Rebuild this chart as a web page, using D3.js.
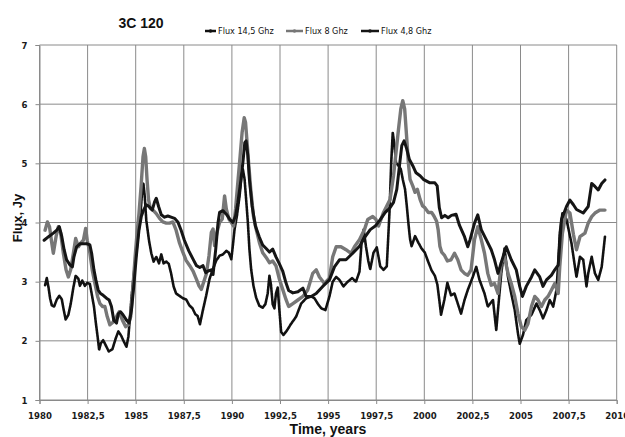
<!DOCTYPE html>
<html>
<head>
<meta charset="utf-8">
<script src="https://cdn.jsdelivr.net/npm/d3@7"></script>
<style>
  html, body { margin: 0; padding: 0; background: #fff; }
  svg { display: block; }
  .tick text { font-family: 'Liberation Sans Narrow', 'DejaVu Sans Condensed', 'Liberation Sans', sans-serif; }
</style>
</head>
<body>
<svg id="chart" width="625" height="437"></svg>
<script>
// ---------------- DATA ----------------
const chartTitle = "3C 120";
const xTicks = [1980, 1982.5, 1985, 1987.5, 1990, 1992.5, 1995, 1997.5, 2000, 2002.5, 2005, 2007.5, 2010];
const yTicks = [1, 2, 3, 4, 5, 6, 7];
const seriesNames = ["Flux 14,5 Ghz", "Flux 8 Ghz", "Flux 4,8 Ghz"];

// [year, flux Jy]
const flux145 = [
[1980.29,2.94],[1980.38,3.06],[1980.47,2.90],[1980.55,2.72],[1980.64,2.60],[1980.76,2.58],[1980.90,2.70],[1981.03,2.76],
[1981.16,2.70],[1981.26,2.52],[1981.36,2.36],[1981.50,2.44],[1981.62,2.62],[1981.76,2.90],[1981.88,3.10],[1982.02,3.05],
[1982.10,2.93],[1982.22,3.02],[1982.36,2.93],[1982.48,2.98],[1982.62,2.96],[1982.71,2.80],[1982.83,2.58],[1982.93,2.30],
[1983.02,2.07],[1983.10,1.85],[1983.19,1.96],[1983.31,2.01],[1983.45,1.92],[1983.60,1.82],[1983.79,1.86],[1983.97,2.05],
[1984.10,2.16],[1984.24,2.09],[1984.38,1.99],[1984.52,1.90],[1984.62,2.07],[1984.69,2.35],[1984.78,2.73],[1984.90,3.12],
[1985.00,3.40],[1985.12,3.76],[1985.24,4.10],[1985.34,4.55],[1985.40,4.66],[1985.47,4.44],[1985.55,4.04],[1985.69,3.70],
[1985.81,3.48],[1985.93,3.34],[1986.07,3.42],[1986.21,3.31],[1986.33,3.46],[1986.45,3.31],[1986.59,3.34],[1986.72,3.30],
[1986.84,3.14],[1986.97,2.92],[1987.10,2.80],[1987.28,2.76],[1987.45,2.72],[1987.62,2.70],[1987.79,2.60],[1987.95,2.55],
[1988.10,2.45],[1988.22,2.42],[1988.34,2.28],[1988.48,2.50],[1988.66,2.76],[1988.84,3.05],[1989.02,3.22],[1989.19,3.36],
[1989.36,3.44],[1989.53,3.46],[1989.71,3.52],[1989.84,3.49],[1989.97,3.38],[1990.05,3.61],[1990.14,3.89],[1990.26,4.11],
[1990.40,4.45],[1990.50,4.79],[1990.57,4.90],[1990.66,4.73],[1990.74,4.39],[1990.83,4.00],[1990.91,3.55],[1991.00,3.21],
[1991.12,2.93],[1991.26,2.73],[1991.43,2.59],[1991.60,2.56],[1991.74,2.62],[1991.86,2.80],[1991.95,3.10],[1992.03,2.95],
[1992.12,2.62],[1992.21,2.55],[1992.29,2.80],[1992.38,2.90],[1992.46,2.55],[1992.56,2.15],[1992.68,2.10],[1992.85,2.17],
[1993.08,2.29],[1993.34,2.41],[1993.60,2.63],[1993.86,2.72],[1994.12,2.75],[1994.29,2.72],[1994.46,2.63],[1994.64,2.55],
[1994.86,2.52],[1995.07,2.75],[1995.24,3.00],[1995.42,3.08],[1995.59,3.03],[1995.80,2.92],[1996.02,3.00],[1996.25,3.06],
[1996.45,3.00],[1996.63,3.17],[1996.75,3.71],[1996.85,3.88],[1996.97,3.59],[1997.09,3.35],[1997.19,3.21],[1997.36,3.49],
[1997.53,3.58],[1997.71,3.26],[1997.88,3.20],[1998.05,3.26],[1998.19,4.17],[1998.28,5.01],[1998.36,5.52],[1998.45,5.30],
[1998.53,5.01],[1998.66,4.96],[1998.78,4.90],[1998.88,4.73],[1999.00,4.56],[1999.09,4.28],[1999.17,4.00],[1999.26,3.72],
[1999.34,3.60],[1999.52,3.77],[1999.69,3.66],[1999.86,3.56],[2000.03,3.49],[2000.21,3.33],[2000.38,3.19],[2000.55,3.10],
[2000.68,2.95],[2000.78,2.69],[2000.87,2.44],[2001.04,2.69],[2001.20,2.98],[2001.39,2.77],[2001.57,2.80],[2001.74,2.63],
[2001.91,2.46],[2002.09,2.69],[2002.26,2.86],[2002.52,3.08],[2002.70,3.25],[2002.87,3.03],[2003.13,2.80],[2003.30,2.58],
[2003.57,2.69],[2003.74,2.18],[2003.83,2.52],[2004.00,3.14],[2004.17,3.56],[2004.35,3.08],[2004.52,2.80],[2004.70,2.52],
[2004.87,2.12],[2004.96,1.95],[2005.13,2.10],[2005.30,2.35],[2005.57,2.44],[2005.83,2.63],[2006.00,2.52],[2006.17,2.38],
[2006.35,2.52],[2006.52,2.69],[2006.70,2.58],[2006.87,2.86],[2006.96,3.31],[2007.04,3.82],[2007.18,4.16],[2007.39,4.05],
[2007.65,3.65],[2007.83,3.25],[2007.91,3.08],[2008.09,3.42],[2008.26,3.37],[2008.43,2.92],[2008.52,3.14],[2008.70,3.42],
[2008.87,3.14],[2009.04,3.03],[2009.22,3.25],[2009.39,3.76]
];

const flux8 = [
[1980.29,3.87],[1980.41,4.01],[1980.52,3.93],[1980.64,3.65],[1980.72,3.48],[1980.86,3.76],[1980.98,3.93],[1981.10,3.82],
[1981.24,3.48],[1981.38,3.20],[1981.50,3.08],[1981.62,3.20],[1981.76,3.48],[1981.88,3.73],[1982.02,3.59],[1982.14,3.65],
[1982.28,3.70],[1982.40,3.90],[1982.48,3.70],[1982.62,3.48],[1982.74,3.20],[1982.88,2.97],[1983.02,2.75],[1983.14,2.63],
[1983.28,2.58],[1983.40,2.58],[1983.52,2.41],[1983.66,2.27],[1983.83,2.32],[1984.00,2.41],[1984.14,2.49],[1984.31,2.35],
[1984.48,2.24],[1984.62,2.27],[1984.74,2.41],[1984.86,2.92],[1984.97,3.42],[1985.07,3.82],[1985.17,4.15],[1985.28,4.61],
[1985.38,5.11],[1985.45,5.25],[1985.52,5.11],[1985.59,4.72],[1985.67,4.38],[1985.76,4.24],[1985.90,4.21],[1986.07,4.15],
[1986.24,4.07],[1986.41,4.01],[1986.59,3.99],[1986.76,3.99],[1986.93,4.01],[1987.10,3.87],[1987.28,3.65],[1987.45,3.50],
[1987.62,3.36],[1987.81,3.27],[1987.98,3.18],[1988.16,3.04],[1988.29,2.93],[1988.41,2.87],[1988.53,2.99],[1988.67,3.13],
[1988.81,3.44],[1988.93,3.83],[1989.02,3.89],[1989.10,3.61],[1989.22,3.83],[1989.36,4.00],[1989.50,4.06],[1989.62,4.45],
[1989.71,4.23],[1989.84,4.06],[1989.97,4.00],[1990.09,3.94],[1990.19,4.23],[1990.31,4.68],[1990.43,5.13],[1990.53,5.52],
[1990.64,5.77],[1990.71,5.69],[1990.79,5.35],[1990.88,4.96],[1990.98,4.56],[1991.12,4.11],[1991.26,3.89],[1991.43,3.66],
[1991.60,3.49],[1991.78,3.41],[1991.95,3.32],[1992.12,3.35],[1992.29,3.27],[1992.47,3.04],[1992.64,2.87],[1992.81,2.70],
[1992.95,2.58],[1993.17,2.63],[1993.43,2.69],[1993.69,2.75],[1993.94,2.86],[1994.20,3.14],[1994.38,3.20],[1994.55,3.08],
[1994.81,2.97],[1995.07,3.06],[1995.24,3.42],[1995.42,3.59],[1995.67,3.59],[1995.93,3.54],[1996.19,3.48],[1996.37,3.59],
[1996.63,3.71],[1996.89,3.88],[1997.06,4.05],[1997.32,4.10],[1997.49,4.05],[1997.62,3.94],[1997.88,4.17],[1998.05,4.28],
[1998.22,4.39],[1998.40,4.79],[1998.53,5.18],[1998.66,5.58],[1998.78,5.92],[1998.88,6.06],[1998.98,5.92],[1999.09,5.41],
[1999.17,5.01],[1999.26,4.73],[1999.40,4.62],[1999.52,4.51],[1999.64,4.56],[1999.78,4.39],[1999.91,4.28],[2000.03,4.25],
[2000.21,4.17],[2000.38,4.17],[2000.50,4.11],[2000.64,4.02],[2000.72,3.88],[2000.81,3.60],[2000.90,3.50],[2001.04,3.45],
[2001.20,3.35],[2001.39,3.37],[2001.57,3.48],[2001.74,3.37],[2001.91,3.20],[2002.09,3.14],[2002.26,3.11],[2002.43,3.20],
[2002.61,3.71],[2002.78,3.93],[2002.96,3.71],[2003.13,3.48],[2003.30,3.14],[2003.48,2.94],[2003.65,2.97],[2003.83,2.80],
[2004.00,3.31],[2004.17,3.42],[2004.35,3.14],[2004.52,2.97],[2004.70,2.75],[2004.87,2.46],[2005.04,2.24],[2005.22,2.18],
[2005.39,2.29],[2005.57,2.58],[2005.74,2.75],[2005.91,2.69],[2006.09,2.58],[2006.26,2.69],[2006.43,2.75],[2006.61,2.86],
[2006.78,2.97],[2006.96,2.80],[2007.04,3.25],[2007.18,3.82],[2007.39,4.21],[2007.57,4.16],[2007.75,3.80],[2007.91,3.54],
[2008.09,3.76],[2008.35,3.82],[2008.52,3.99],[2008.70,4.10],[2008.87,4.16],[2009.13,4.21],[2009.39,4.21]
];

const flux48 = [
[1980.24,3.70],[1980.47,3.76],[1980.72,3.82],[1980.90,3.87],[1981.03,3.93],[1981.16,3.76],[1981.28,3.54],[1981.41,3.37],
[1981.59,3.28],[1981.71,3.25],[1981.79,3.42],[1981.93,3.59],[1982.10,3.64],[1982.28,3.64],[1982.48,3.64],[1982.62,3.62],
[1982.71,3.48],[1982.83,3.20],[1982.93,3.03],[1983.05,2.86],[1983.17,2.80],[1983.31,2.77],[1983.48,2.72],[1983.62,2.69],
[1983.74,2.58],[1983.86,2.35],[1984.00,2.30],[1984.10,2.46],[1984.21,2.49],[1984.34,2.44],[1984.52,2.35],[1984.66,2.30],
[1984.78,2.52],[1984.90,2.92],[1985.03,3.42],[1985.17,3.87],[1985.29,4.10],[1985.41,4.21],[1985.55,4.30],[1985.69,4.27],
[1985.86,4.21],[1985.98,4.35],[1986.07,4.41],[1986.19,4.27],[1986.33,4.13],[1986.50,4.09],[1986.67,4.11],[1986.84,4.09],
[1987.02,4.07],[1987.19,4.01],[1987.36,3.87],[1987.53,3.70],[1987.76,3.52],[1987.98,3.38],[1988.16,3.27],[1988.33,3.24],
[1988.50,3.27],[1988.64,3.15],[1988.76,3.18],[1988.93,3.20],[1989.02,3.12],[1989.16,3.55],[1989.28,4.00],[1989.36,4.17],
[1989.53,4.20],[1989.71,4.14],[1989.88,4.06],[1990.05,4.00],[1990.19,4.11],[1990.31,4.34],[1990.43,4.62],[1990.57,5.01],
[1990.67,5.35],[1990.74,5.38],[1990.83,5.13],[1990.91,4.73],[1991.05,4.28],[1991.22,3.94],[1991.43,3.75],[1991.60,3.62],
[1991.78,3.56],[1991.95,3.50],[1992.12,3.55],[1992.29,3.42],[1992.47,3.30],[1992.64,3.18],[1992.81,2.98],[1992.95,2.85],
[1993.17,2.81],[1993.43,2.83],[1993.69,2.89],[1993.86,2.75],[1994.12,2.75],[1994.38,2.80],[1994.72,2.92],[1995.07,3.03],
[1995.33,3.25],[1995.59,3.37],[1995.93,3.37],[1996.28,3.48],[1996.63,3.60],[1996.93,3.76],[1997.19,3.88],[1997.45,3.94],
[1997.71,4.05],[1997.97,4.17],[1998.22,4.25],[1998.40,4.34],[1998.57,4.56],[1998.71,4.96],[1998.83,5.30],[1998.95,5.38],
[1999.09,5.24],[1999.22,5.07],[1999.40,4.96],[1999.57,4.84],[1999.78,4.79],[1999.95,4.73],[2000.12,4.70],[2000.29,4.67],
[2000.55,4.67],[2000.67,4.62],[2000.78,4.25],[2000.90,4.08],[2001.07,4.12],[2001.24,4.08],[2001.41,4.12],[2001.65,4.14],
[2001.83,3.95],[2002.09,3.76],[2002.26,3.59],[2002.38,3.71],[2002.61,3.99],[2002.78,4.13],[2002.96,3.88],[2003.22,3.71],
[2003.48,3.54],[2003.65,3.37],[2003.83,3.14],[2004.09,3.42],[2004.26,3.59],[2004.52,3.37],[2004.78,3.20],[2004.96,2.92],
[2005.10,2.75],[2005.30,2.92],[2005.57,3.08],[2005.74,3.20],[2006.00,3.08],[2006.17,2.92],[2006.35,3.03],[2006.61,3.11],
[2006.78,3.20],[2006.96,3.28],[2007.13,4.05],[2007.39,4.27],[2007.57,4.38],[2007.75,4.30],[2007.91,4.22],[2008.26,4.16],
[2008.52,4.27],[2008.70,4.66],[2008.87,4.61],[2009.04,4.55],[2009.22,4.66],[2009.39,4.72]
];

// ---------------- CHART ----------------
const svg = d3.select("#chart");
const x = d3.scaleLinear().domain([1980, 2010]).range([39.5, 616.7]);
const y = d3.scaleLinear().domain([1, 7]).range([400, 45]);
const fmt = v => String(v).replace(".", ",");
const tickFont = "'Liberation Sans Narrow', 'DejaVu Sans Condensed', 'Liberation Sans', sans-serif";

// grid
const grid = svg.append("g");
grid.selectAll("line.v").data(xTicks).join("line")
  .attr("x1", d => x(d)).attr("x2", d => x(d))
  .attr("y1", y(7)).attr("y2", y(1))
  .attr("stroke", "#8a8a8a").attr("stroke-width", 1);
grid.selectAll("line.h").data(yTicks).join("line")
  .attr("x1", x(1980)).attr("x2", x(2010))
  .attr("y1", d => y(d)).attr("y2", d => y(d))
  .attr("stroke", "#8a8a8a").attr("stroke-width", 1);

// axes
const xAxis = svg.append("g").attr("transform", `translate(0,${y(1)})`)
  .call(d3.axisBottom(x).tickValues(xTicks).tickFormat(fmt).tickSize(4).tickPadding(8));
const yAxis = svg.append("g").attr("transform", `translate(${x(1980)},0)`)
  .call(d3.axisLeft(y).tickValues(yTicks).tickFormat(d3.format("d")).tickSize(4).tickPadding(8));
[xAxis, yAxis].forEach(a => {
  a.select(".domain").attr("stroke", "#8a8a8a");
  a.selectAll(".tick line").attr("stroke", "#8a8a8a");
  a.selectAll(".tick text").attr("fill", "#1a1a1a").style("font-size", "9.5px")
    .style("font-family", tickFont).style("font-weight", "bold");
});

// series
const line = d3.line().x(d => x(d[0])).y(d => y(d[1])).curve(d3.curveLinear);
const styles = [
  {data: flux145, color: "#111", width: 2.6, dash: "2.2,0.8"},
  {data: flux8,   color: "#777", width: 3.4, dash: null},
  {data: flux48,  color: "#151515", width: 3.0, dash: null}
];
styles.forEach(s => {
  svg.append("path").datum(s.data)
    .attr("d", line).attr("fill", "none")
    .attr("stroke", s.color).attr("stroke-width", s.width)
    .attr("stroke-linejoin", "round").attr("stroke-linecap", "round")
    .attr("stroke-dasharray", s.dash);
});

// title
svg.append("text").attr("x", 141).attr("y", 28).attr("text-anchor", "middle")
  .style("font-family", "'Liberation Sans', Arial, sans-serif").style("font-weight", "bold")
  .style("font-size", "14px").attr("fill", "#111").text(chartTitle);

// legend
const legendPos = [{lx: 205, tx: 218}, {lx: 286, tx: 305}, {lx: 361, tx: 381}];
const legColors = ["#111", "#777", "#151515"];
const leg = svg.append("g");
seriesNames.forEach((name, i) => {
  const p = legendPos[i];
  leg.append("line").attr("x1", p.lx).attr("x2", p.tx - 2).attr("y1", 31).attr("y2", 31)
    .attr("stroke", legColors[i]).attr("stroke-width", 2.5);
  leg.append("circle").attr("cx", (p.lx + p.tx - 2) / 2).attr("cy", 31).attr("r", 1.8).attr("fill", legColors[i]);
  leg.append("text").attr("x", p.tx).attr("y", 34)
    .style("font-family", tickFont).style("font-size", "9px").attr("fill", "#111").text(name);
});

// axis titles
svg.append("text").attr("x", 328).attr("y", 434).attr("text-anchor", "middle")
  .style("font-family", "'Liberation Sans', Arial, sans-serif").style("font-weight", "bold")
  .style("font-size", "14px").attr("fill", "#111").text("Time, years");
svg.append("text").attr("transform", "translate(22,218) rotate(-90)").attr("text-anchor", "middle")
  .style("font-family", "'Liberation Sans', Arial, sans-serif").style("font-weight", "bold")
  .style("font-size", "13px").attr("fill", "#111").text("Flux, Jy");
</script>
</body>
</html>
